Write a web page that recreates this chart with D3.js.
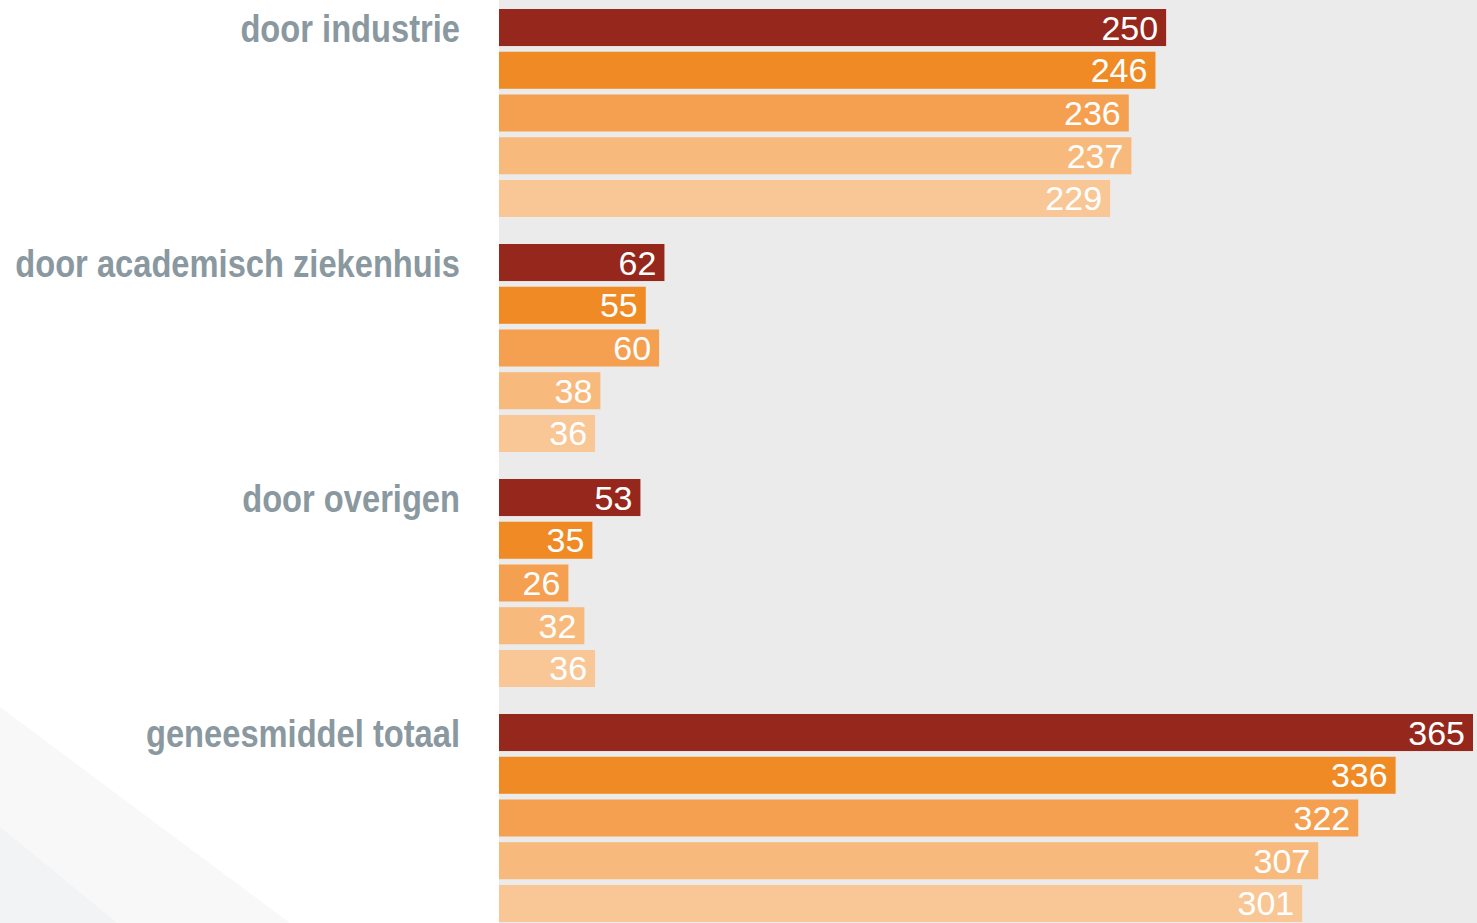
<!DOCTYPE html>
<html><head><meta charset="utf-8">
<script src="https://cdn.jsdelivr.net/npm/d3@7"></script>
<style>body{margin:0;background:#fff}svg{display:block}</style>
</head><body>
<svg id="c" width="1477" height="923"></svg>
<script>
const categories = ["door industrie", "door academisch ziekenhuis", "door overigen", "geneesmiddel totaal"];
const seriesNames = ["s1", "s2", "s3", "s4", "s5"];
const values = [
  [250, 246, 236, 237, 229],
  [62, 55, 60, 38, 36],
  [53, 35, 26, 32, 36],
  [365, 336, 322, 307, 301]
];
const colors = ["#96271c", "#f08a24", "#f5a050", "#f8ba7c", "#f9c795"];

const W = 1477, H = 923, x0 = 499;
const svg = d3.select("#c");

// background decorations
svg.append("rect").attr("x",0).attr("y",0).attr("width",W).attr("height",H).attr("fill","#fff");
svg.append("polygon").attr("points","0,707 290,923 0,923").attr("fill","#f8f8f8");
svg.append("polygon").attr("points","0,827 117,923 0,923").attr("fill","#f2f3f5");
svg.append("rect").attr("x",x0).attr("y",0).attr("width",W-x0).attr("height",H).attr("fill","#ebebeb");

const x = d3.scaleLinear().domain([0, 365]).range([x0, 1473]);
const yOuter = d3.scaleBand().domain(categories).range([9, 9 + 4*235]).paddingInner(0);
const yInner = d3.scaleBand().domain(seriesNames).range([0, 208]).paddingInner(0.133).paddingOuter(0);

const g = svg.selectAll("g.grp").data(categories).join("g")
  .attr("class","grp")
  .attr("transform", d => `translate(0,${yOuter(d)})`);

g.each(function(cat, ci){
  const gg = d3.select(this);
  const data = values[ci].map((v,i)=>({v, s: seriesNames[i], i}));
  gg.selectAll("rect").data(data).join("rect")
    .attr("x", x(0))
    .attr("y", d => yInner(d.s))
    .attr("width", d => x(d.v) - x(0))
    .attr("height", yInner.bandwidth())
    .attr("fill", d => colors[d.i]);
  gg.selectAll("text.val").data(data).join("text")
    .attr("class","val")
    .attr("x", d => x(d.v) - 8)
    .attr("y", d => yInner(d.s) + yInner.bandwidth()/2 + 12)
    .attr("text-anchor","end")
    .attr("fill","#fff")
    .attr("font-family","'Liberation Sans', Arial, sans-serif")
    .attr("font-size", 34)
    .text(d => d.v);
  gg.append("text")
    .attr("transform", `translate(460,${yInner(seriesNames[0]) + yInner.bandwidth()/2 + 14}) scale(0.86,1)`)
    .attr("text-anchor","end")
    .attr("fill","#8a98a0")
    .attr("font-family","'Liberation Sans', Arial, sans-serif")
    .attr("font-weight","bold")
    .attr("font-size", 38)
    .text(cat);
});
</script>
</body></html>
